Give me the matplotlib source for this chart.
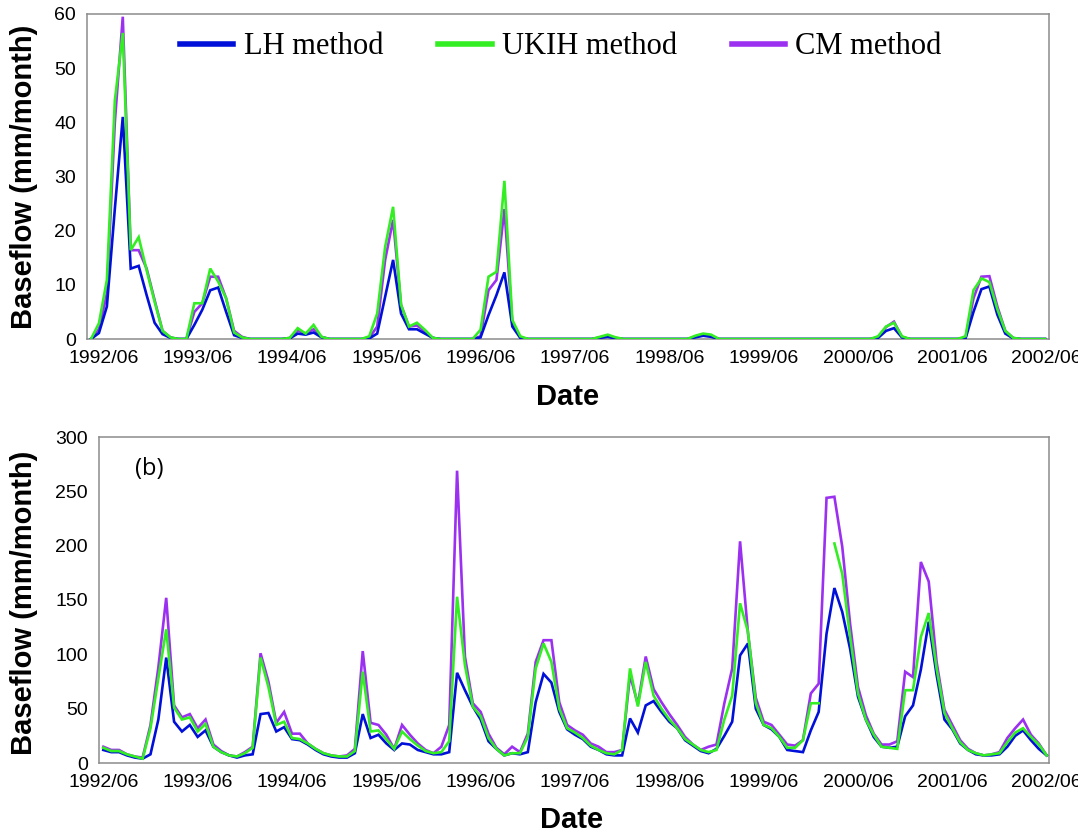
import numpy as np
import matplotlib
matplotlib.use("Agg")
import matplotlib.pyplot as plt

nan = np.nan
# ---------------- data ----------------
tick_labels = ["1992/06", "1993/06", "1994/06", "1995/06", "1996/06", "1997/06",
               "1998/06", "1999/06", "2000/06", "2001/06", "2002/06"]
series_names = ["LH method", "UKIH method", "CM method"]

# panel (a), monthly baseflow (mm/month), 1992/06 - 2002/06
a_lh = [0, 1.1, 6, 24, 41, 13, 13.5, 8.1, 3, 0.9, 0.2, 0, 0, 2.6, 5.4, 9, 9.5, 5, 0.7, 0.2,
        0, 0, 0, 0, 0, 0.1, 1.0, 0.8, 1.2, 0.3, 0, 0, 0, 0, 0, 0.1, 1, 7.8, 14.6, 4.7,
        1.8, 1.8, 1.0, 0.2, 0, 0, 0, 0, 0, 0.3, 4.4, 8.1, 12.3, 2.3, 0.2, 0, 0, 0, 0, 0,
        0, 0, 0, 0, 0.2, 0.4, 0.1, 0, 0, 0, 0, 0, 0, 0, 0, 0, 0.3, 0.6, 0.4, 0,
        0, 0, 0, 0, 0, 0, 0, 0, 0, 0, 0, 0, 0, 0, 0, 0, 0, 0, 0, 0.2,
        1.5, 2.0, 0.3, 0, 0, 0, 0, 0, 0, 0, 0.1, 5, 9.2, 9.7, 4.5, 1, 0.1, 0, 0, 0, 0]
a_ukih = [0, 2.9, 10.9, 44, 56.5, 16.4, 18.8, 12.7, 6.9, 1.5, 0.3, 0, 0, 6.6, 6.6, 13, 10.6, 7.5, 1.2, 0.3,
          0, 0, 0, 0, 0, 0.2, 2.0, 1.0, 2.6, 0.4, 0, 0, 0, 0, 0, 0.5, 4.7, 17, 24.4, 6.3,
          2.3, 3.0, 1.7, 0.2, 0, 0, 0, 0, 0, 1.7, 11.5, 12.4, 29.2, 3.5, 0.5, 0, 0, 0, 0, 0,
          0, 0, 0, 0, 0.4, 0.8, 0.3, 0, 0, 0, 0, 0, 0, 0, 0, 0, 0.6, 1.0, 0.8, 0,
          0, 0, 0, 0, 0, 0, 0, 0, 0, 0, 0, 0, 0, 0, 0, 0, 0, 0, 0, 0.5,
          2.3, 3.0, 0.5, 0, 0, 0, 0, 0, 0, 0, 0.5, 9, 11.2, 10.5, 5.5, 1.5, 0.2, 0, 0, 0, 0]
a_cm = [0, 1.8, 8.4, 40, 59.5, 16.4, 16.4, 13, 7.2, 1.5, 0.3, 0, 0, 5, 6.6, 11.5, 11.5, 7.5, 1.5, 0.4,
        0, 0, 0, 0, 0, 0.2, 1.6, 1.0, 1.8, 0.4, 0, 0, 0, 0, 0, 0.2, 2.3, 14.6, 22, 6.3,
        2.3, 2.5, 1.4, 0.2, 0, 0, 0, 0, 0, 0.5, 9, 10.9, 24, 3, 0.3, 0, 0, 0, 0, 0,
        0, 0, 0, 0, 0.3, 0.5, 0.2, 0, 0, 0, 0, 0, 0, 0, 0, 0, 0.4, 0.8, 0.6, 0,
        0, 0, 0, 0, 0, 0, 0, 0, 0, 0, 0, 0, 0, 0, 0, 0, 0, 0, 0, 0.3,
        2.2, 3.2, 0.4, 0, 0, 0, 0, 0, 0, 0, 0.2, 7.5, 11.5, 11.6, 6, 1.5, 0.2, 0, 0, 0, 0]

# panel (b)
b_lh = [12, 10, 10, 7, 5, 4, 8, 40, 97, 38, 29, 35, 24, 30, 15, 10, 7, 5, 7, 8,
        45, 46, 29, 33, 22, 21, 17, 12, 8, 6, 5, 5, 9, 45, 23, 26, 18, 12, 18, 17,
        12, 10, 8, 8, 10, 83, 67, 52, 40, 20, 13, 7, 9, 8, 10, 56, 82, 74, 47, 31,
        26, 22, 15, 12, 8, 7, 7, 41, 28, 53, 57, 47, 38, 32, 21, 16, 11, 9, 13, 25,
        38, 99, 110, 50, 35, 31, 24, 12, 11, 10, 30, 47, 119, 161, 139, 105, 61, 40, 24, 15,
        14, 15, 43, 53, 86, 130, 81, 40, 31, 18, 12, 8, 7, 7, 8, 15, 25, 30, 21, 13, 7]
b_ukih = [14, 11, 11, 8, 6, 4, 32, 78, 123, 51, 40, 42, 29, 36, 15, 10, 7, 6, 9, 14,
          97, 70, 35, 38, 23, 22, 18, 13, 9, 7, 6, 6, 11, 84, 29, 30, 22, 13, 29, 22,
          16, 11, 9, 10, 20, 153, 90, 52, 43, 23, 13, 7, 9, 9, 24, 87, 110, 93, 50, 32,
          28, 23, 16, 12, 9, 8, 12, 87, 52, 93, 62, 50, 40, 32, 22, 17, 12, 10, 12, 40,
          62, 147, 121, 55, 35, 32, 24, 14, 14, 21, 55, 55, nan, 202, 174, 116, 64, 40, 26, 15,
          14, 13, 67, 67, 116, 138, 87, 46, 32, 19, 12, 9, 7, 8, 9, 19, 28, 32, 24, 17, 7]
b_cm = [15, 12, 12, 8, 6, 5, 35, 88, 152, 53, 42, 45, 32, 40, 17, 11, 7, 6, 10, 15,
        101, 75, 37, 47, 27, 27, 18, 13, 9, 7, 6, 7, 13, 103, 37, 35, 26, 13, 35, 26,
        18, 12, 9, 15, 35, 269, 98, 55, 47, 27, 14, 8, 15, 10, 27, 93, 113, 113, 56, 35,
        30, 26, 18, 15, 10, 10, 12, 81, 54, 98, 68, 56, 45, 35, 24, 17, 12, 15, 17, 55,
        87, 204, 120, 60, 38, 35, 26, 17, 16, 21, 64, 73, 244, 245, 199, 128, 70, 44, 27, 17,
        17, 20, 84, 79, 185, 167, 93, 49, 35, 21, 13, 9, 7, 8, 10, 23, 32, 40, 26, 18, 7]

# ---------------- style ----------------
W, H, DPI = 1078, 834, 100
col_lh, col_ukih, col_cm = "#0010D8", "#33EE22", "#9B30F0"
lw = 1.9
sans = ["Liberation Sans", "Arial", "DejaVu Sans"]
serif = ["Liberation Serif", "Times New Roman", "DejaVu Serif"]
plt.rcParams["font.family"] = sans

fig = plt.figure(figsize=(W / DPI, H / DPI), dpi=DPI)

def px_axes(l, r, t, b):
    return fig.add_axes([l / W, 1 - b / H, (r - l) / W, (b - t) / H])

ax1 = px_axes(87, 1049, 14, 339)
ax2 = px_axes(99, 1049, 437, 763)

n = len(b_lh)
x = np.arange(n)

def style(ax):
    for s in ax.spines.values():
        s.set_color("#8c8c8c")
        s.set_linewidth(1.1)
    ax.tick_params(length=0, labelsize=14, colors="black")
    ax.tick_params(axis="x", pad=8)
    ax.tick_params(axis="y", pad=8)

# panel a
lines = []
for vals, c, z, name in [(a_cm, col_cm, 2, series_names[2]), (a_lh, col_lh, 3, series_names[0]),
                         (a_ukih, col_ukih, 4, series_names[1])]:
    ln, = ax1.plot(x, vals, color=c, lw=lw, zorder=z, label=name, solid_joinstyle="miter")
    lines.append(ln)
ax1.set_xlim(-0.5, n - 0.5)
ax1.set_ylim(0, 60)
ax1.set_yticks(range(0, 61, 10))

# panel b
for vals, c, z in [(b_cm, col_cm, 2), (b_lh, col_lh, 3), (b_ukih, col_ukih, 4)]:
    ax2.plot(x, vals, color=c, lw=lw, zorder=z, solid_joinstyle="miter")
ax2.set_xlim(-0.55, 120.3)
ax2.set_ylim(0, 300)
ax2.set_yticks(range(0, 301, 50))
ticks_b = np.arange(0, n, 12)
ax2.set_xticks(ticks_b)
ax2.set_xticklabels(tick_labels)

# same label pixel positions on the top panel
pix = ax2.transData.transform(np.c_[ticks_b, np.zeros_like(ticks_b)])
ticks_a = ax1.transData.inverted().transform(pix)[:, 0]
ax1.set_xticks(ticks_a)
ax1.set_xticklabels(tick_labels)

for ax in (ax1, ax2):
    style(ax)

ax1.set_ylabel("Baseflow (mm/month)", fontsize=21, fontweight="bold")
ax2.set_ylabel("Baseflow (mm/month)", fontsize=21, fontweight="bold")
ax1.yaxis.set_label_coords((38 - 87) / 962, 0.5)
ax2.yaxis.set_label_coords((38 - 99) / 950, 0.49)
ax1.set_xlabel("Date", fontsize=21, fontweight="bold")
ax2.set_xlabel("Date", fontsize=21, fontweight="bold")
ax1.xaxis.set_label_coords(0.5, (339 - 383) / 325)
ax2.xaxis.set_label_coords(0.497, (763 - 806) / 326)

ax2.text((135 - 99) / 950, (763 - 469) / 326, "(b)", transform=ax2.transAxes,
         fontsize=17, va="center", ha="left", family=["Open Sans", "DejaVu Sans"])

handles = [lines[1], lines[2], lines[0]]
leg = ax1.legend(handles, series_names, ncol=3, frameon=False,
                 loc="center left", bbox_to_anchor=(180 / W, 1 - 47 / H),
                 bbox_transform=fig.transFigure, borderpad=0, borderaxespad=0,
                 handlelength=1.75, handletextpad=0.33, columnspacing=1.8,
                 prop={"family": serif, "size": 22})
for h in leg.legend_handles:
    h.set_linewidth(4)

fig.savefig("out.png", dpi=DPI)
